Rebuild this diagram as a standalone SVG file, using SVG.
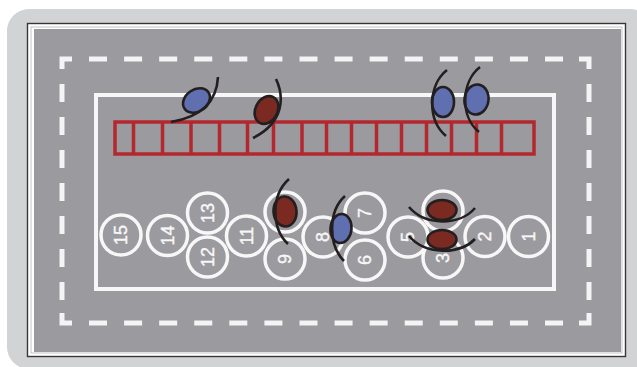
<svg xmlns="http://www.w3.org/2000/svg" width="637" height="367" viewBox="0 0 637 367">
  <defs>
    <style>
      .dash { fill: none; stroke: #f4f4f4; stroke-width: 5; }
      .grid { fill: none; stroke: #b3282f; stroke-width: 3.5; }
      .spot circle { fill: none; stroke: #f7f7f7; stroke-width: 3.5; }
      .spot text { font-family: "Liberation Sans", Arial, sans-serif; font-size: 18px; fill: #f7f7f7; stroke: #f7f7f7; stroke-width: 0.4; text-anchor: middle; dominant-baseline: central; }
      .arc { fill: none; stroke: #231f20; stroke-width: 2.6; stroke-linecap: butt; }
      .blue { fill: #5f6fb0; stroke: #231f20; stroke-width: 2.6; }
      .red { fill: #7b2a22; stroke: #231f20; stroke-width: 2.6; }
    </style>
  </defs>

  <!-- backdrop and framed court -->
  <rect x="0" y="0" width="637" height="367" fill="#ffffff"/>
  <rect x="7" y="9" width="645" height="360" rx="22" fill="#d2d3d5"/>
  <rect x="27.5" y="23.5" width="598" height="333" fill="#ffffff" stroke="#3b3536" stroke-width="1.4"/>
  <rect x="31" y="27" width="591" height="326" fill="none" stroke="#b5b5b8" stroke-width="0.8"/>
  <rect x="34" y="29" width="587" height="323" fill="#9b9a9f"/>

  <!-- dashed boundary -->
  <g id="dashed-boundary">
    <path class="dash" d="M62,69 V59 H72 M579,59 H589 V69 M62,313 V323 H72 M579,323 H589 V313"/>
    <path class="dash" d="M89,59 H564" stroke-dasharray="18 17.08"/>
    <path class="dash" d="M89,323 H564" stroke-dasharray="18 17.08"/>
    <path class="dash" d="M62,84 V300" stroke-dasharray="18 15"/>
    <path class="dash" d="M589,84 V300" stroke-dasharray="18 15"/>
  </g>

  <!-- inner white court line -->
  <rect id="court" x="96" y="95" width="458" height="194" fill="none" stroke="#f7f7f7" stroke-width="4"/>

  <!-- red ladder -->
  <g id="ladder">
    <rect class="grid" x="115" y="122" width="419" height="32"/>
    <path class="grid" d="M133.5,122 V154 M162.5,122 V154 M191,122 V154 M219.5,122 V154 M247.5,122 V154 M273.5,122 V154 M302,122 V154 M326.5,122 V154 M351.5,122 V154 M376.5,122 V154 M401.5,122 V154 M426.5,122 V154 M451.5,122 V154 M476.5,122 V154 M501.5,122 V154"/>
  </g>

  <!-- numbered spots -->
  <g id="spots" class="spot">
    <g id="spot-15"><circle cx="121" cy="235" r="20"/><text transform="translate(121 235) rotate(-90)">15</text></g>
    <g id="spot-14"><circle cx="167.5" cy="235.5" r="20"/><text transform="translate(167.5 235.5) rotate(-90)">14</text></g>
    <g id="spot-13"><circle cx="207.5" cy="213" r="20"/><text transform="translate(207.5 213) rotate(-90)">13</text></g>
    <g id="spot-12"><circle cx="207.5" cy="257" r="20"/><text transform="translate(207.5 257) rotate(-90)">12</text></g>
    <g id="spot-11"><circle cx="246.5" cy="236" r="20"/><text transform="translate(246.5 236) rotate(-90)">11</text></g>
    <g id="spot-10"><circle cx="285" cy="212" r="20"/></g>
    <g id="spot-9"><circle cx="285" cy="259" r="20"/><text transform="translate(285 259) rotate(-90)">9</text></g>
    <g id="spot-8"><circle cx="323" cy="237" r="20"/><text transform="translate(323 237) rotate(-90)">8</text></g>
    <g id="spot-7"><circle cx="365" cy="213" r="20"/><text transform="translate(365 213) rotate(-90)">7</text></g>
    <g id="spot-6"><circle cx="365" cy="260" r="20"/><text transform="translate(365 260) rotate(-90)">6</text></g>
    <g id="spot-5"><circle cx="408" cy="237" r="20"/><text transform="translate(408 237) rotate(-90)">5</text></g>
    <g id="spot-4"><circle cx="443" cy="211" r="20"/></g>
    <g id="spot-3"><circle cx="443" cy="258" r="20"/><text transform="translate(443 258) rotate(-90)">3</text></g>
    <g id="spot-2"><circle cx="485" cy="236.5" r="20"/><text transform="translate(485 236.5) rotate(-90)">2</text></g>
    <g id="spot-1"><circle cx="528.5" cy="236.5" r="20"/><text transform="translate(528.5 236.5) rotate(-90)">1</text></g>
  </g>

  <!-- players with movement arcs -->
  <g id="player-a">
    <ellipse class="blue" cx="196.5" cy="100.5" rx="14.5" ry="11" transform="rotate(-35 196.5 100.5)"/>
    <path class="arc" d="M218,77 C217,96 207,116 171,122"/>
  </g>
  <g id="player-b">
    <ellipse class="red" cx="266.5" cy="110" rx="11" ry="14.5" transform="rotate(28 266.5 110)"/>
    <path class="arc" d="M276,79 C284,96 285,122 253,138"/>
  </g>
  <g id="player-c">
    <ellipse class="blue" cx="443" cy="102" rx="11" ry="15"/>
    <path class="arc" d="M447,70 C428,85 427,120 446,136"/>
  </g>
  <g id="player-d">
    <ellipse class="blue" cx="476.5" cy="99.5" rx="12" ry="15" transform="rotate(8 476.5 99.5)"/>
    <path class="arc" d="M480,67 C461,82 460,117 479,132"/>
  </g>
  <g id="player-e">
    <ellipse class="red" cx="285" cy="211.5" rx="11.5" ry="15" transform="rotate(-5 285 211.5)"/>
    <path class="arc" d="M289,179 C271,195 271,228 288,244"/>
  </g>
  <g id="player-f">
    <ellipse class="blue" cx="341" cy="228.5" rx="10.5" ry="14.5" transform="rotate(5 341 228.5)"/>
    <path class="arc" d="M345,196 C328,211 328,245 344,261"/>
  </g>
  <g id="player-g">
    <ellipse class="red" cx="442" cy="210" rx="14.5" ry="10"/>
    <path class="arc" d="M409,207 C425,226 460,226 475,208"/>
  </g>
  <g id="player-h">
    <ellipse class="red" cx="442" cy="239.5" rx="14.5" ry="9.5"/>
    <path class="arc" d="M409,236 C425,255 460,255 475,239"/>
  </g>
</svg>
